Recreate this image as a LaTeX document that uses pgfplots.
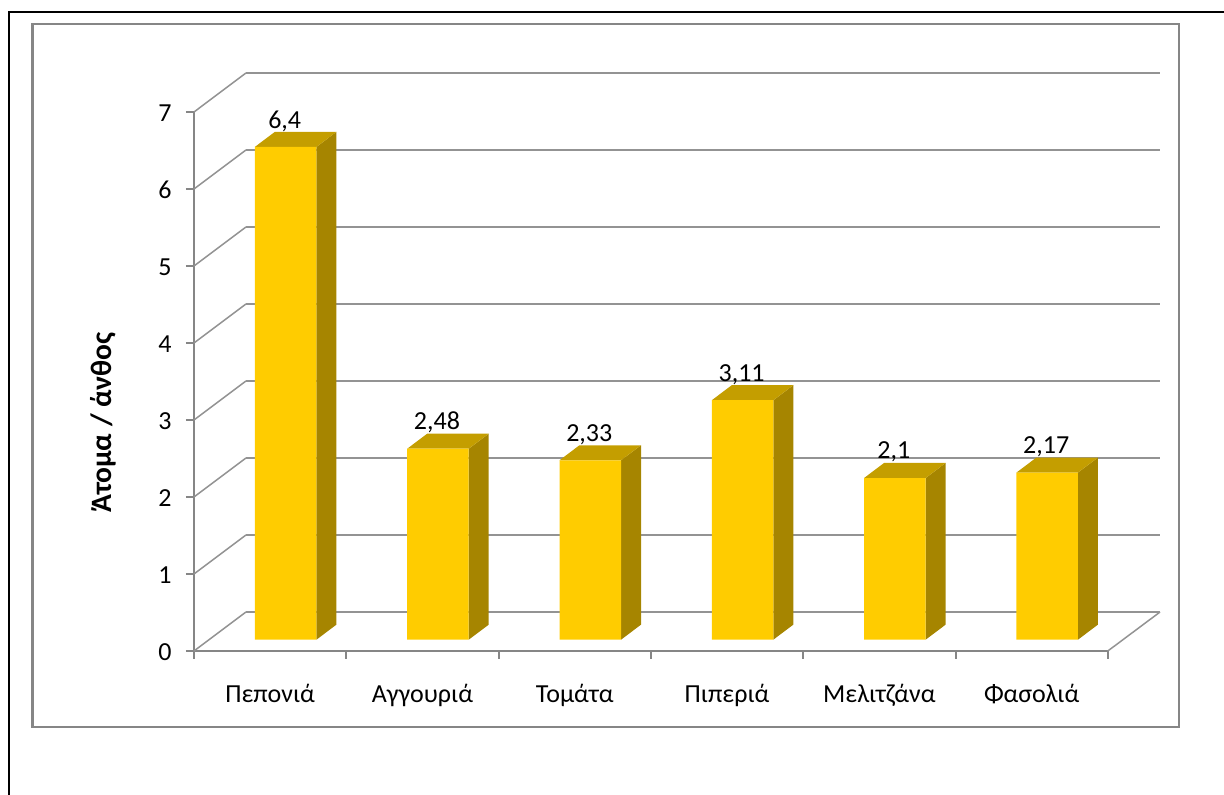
\documentclass[border=0pt]{standalone}
\usepackage{fontspec}
\setmainfont{Carlito}
\usepackage{pgfplots}
\pgfplotsset{compat=1.18}
\definecolor{barfront}{HTML}{FFCC00}
\definecolor{barside}{HTML}{A68500}
\definecolor{bartop}{HTML}{C49E00}
\definecolor{framegray}{HTML}{868686}
\definecolor{gridgray}{HTML}{939393}
\newcommand{\labelfont}{\fontsize{26}{30}\selectfont}
% Side and top faces of one 3D column: #1 = left edge of the front face, #2 = value
\newcommand{\barfaces}[2]{%
  \pgfmathsetmacro{\xr}{#1+0.404}%
  \pgfmathsetmacro{\xb}{#1+0.535}%
  \pgfmathsetmacro{\xl}{#1+0.131}%
  \pgfmathsetmacro{\yt}{0.147+#2}%
  \pgfmathsetmacro{\ytb}{0.342+#2}%
  \edef\facecmds{%
    \noexpand\addplot[fill=barside,draw=none,forget plot] coordinates
      {(\xr,0.147) (\xb,0.342) (\xb,\ytb) (\xr,\yt)} -- cycle;
    \noexpand\addplot[fill=bartop,draw=none,forget plot] coordinates
      {(#1,\yt) (\xr,\yt) (\xb,\ytb) (\xl,\ytb)} -- cycle;
  }\facecmds
}
\begin{document}
\begin{tikzpicture}[x=1pt,y=1pt]
\useasboundingbox (-194,-144) rectangle (1030,651);
\begin{axis}[
  anchor=south west, at={(0,0)},
  scale only axis, width=913.8pt, height=539pt,
  xmin=0, xmax=6, ymin=0, ymax=7,
  clip=false,
  axis x line*=bottom, axis y line*=left,
  axis line style={framegray, line width=2pt},
  xtick={0,1,2,3,4,5,6},
  x tick label as interval,
  xticklabels={Πεπονιά,Αγγουριά,Τομάτα,Πιπεριά,Μελιτζάνα,Φασολιά},
  ytick={0,1,2,3,4,5,6,7},
  tick align=outside, major tick length=8pt,
  tick style={framegray, line width=2pt},
  minor tick num=0,
  xticklabel style={font=\labelfont, text height=18pt, text depth=6pt, yshift=-22pt},
  yticklabel style={font=\labelfont, xshift=-11pt, yshift=-1pt},
  /pgf/number format/assume math mode=true,
  ylabel={\textbf{Άτομα / άνθος}},
  ylabel style={font=\fontsize{29.5}{34}\selectfont},
  every axis y label/.append style={at={(axis description cs:-0.0996,0.424)}, anchor=center},
  ylabel shift=0pt,
]
% Walls and floor lines behind the columns
\addplot[gridgray,line width=1.5pt,forget plot] coordinates {(6,0) (6.343,0.5065)};
\addplot[gridgray,line width=1.5pt,forget plot] coordinates {(0,0) (0.3414,0.5065)};
\addplot[gridgray,line width=2.5pt,forget plot] coordinates {(0.3414,0.5065) (6.343,0.5065)};
\addplot[gridgray,line width=1.5pt,forget plot] coordinates {(0,1) (0.3414,1.5065)};
\addplot[gridgray,line width=2.5pt,forget plot] coordinates {(0.3414,1.5065) (6.343,1.5065)};
\addplot[gridgray,line width=1.5pt,forget plot] coordinates {(0,2) (0.3414,2.5065)};
\addplot[gridgray,line width=2.5pt,forget plot] coordinates {(0.3414,2.5065) (6.343,2.5065)};
\addplot[gridgray,line width=1.5pt,forget plot] coordinates {(0,3) (0.3414,3.5065)};
\addplot[gridgray,line width=2.5pt,forget plot] coordinates {(0.3414,3.5065) (6.343,3.5065)};
\addplot[gridgray,line width=1.5pt,forget plot] coordinates {(0,4) (0.3414,4.5065)};
\addplot[gridgray,line width=2.5pt,forget plot] coordinates {(0.3414,4.5065) (6.343,4.5065)};
\addplot[gridgray,line width=1.5pt,forget plot] coordinates {(0,5) (0.3414,5.5065)};
\addplot[gridgray,line width=2.5pt,forget plot] coordinates {(0.3414,5.5065) (6.343,5.5065)};
\addplot[gridgray,line width=1.5pt,forget plot] coordinates {(0,6) (0.3414,6.5065)};
\addplot[gridgray,line width=2.5pt,forget plot] coordinates {(0.3414,6.5065) (6.343,6.5065)};
\addplot[gridgray,line width=1.5pt,forget plot] coordinates {(0,7) (0.3414,7.5065)};
\addplot[gridgray,line width=2.5pt,forget plot] coordinates {(0.3414,7.5065) (6.343,7.5065)};
% Column depth
\barfaces{0.4}{6.4}
\barfaces{1.4}{2.48}
\barfaces{2.4}{2.33}
\barfaces{3.4}{3.11}
\barfaces{4.4}{2.1}
\barfaces{5.4}{2.17}
% Column fronts with their value labels
\addplot[ybar, bar width=61.5pt, fill=barfront, draw=none, yshift=11.3pt,
  nodes near coords={\pgfmathprintnumber[use comma,fixed,precision=2]{\pgfplotspointmeta}},
  every node near coord/.append style={font=\labelfont, color=black, anchor=center, xshift=-1pt, yshift=26pt, inner sep=0pt},
] coordinates {(0.602,6.4) (1.602,2.48) (2.602,2.33) (3.602,3.11) (4.602,2.1) (5.602,2.17)};
\end{axis}
% Chart area border and the outer page rule
\draw[framegray, line width=2.2pt] (-161.5,627) rectangle (985,-76);
\draw[black, line width=2pt] (1030,639) -- (-185,639) -- (-185,-144);
\end{tikzpicture}
\end{document}
